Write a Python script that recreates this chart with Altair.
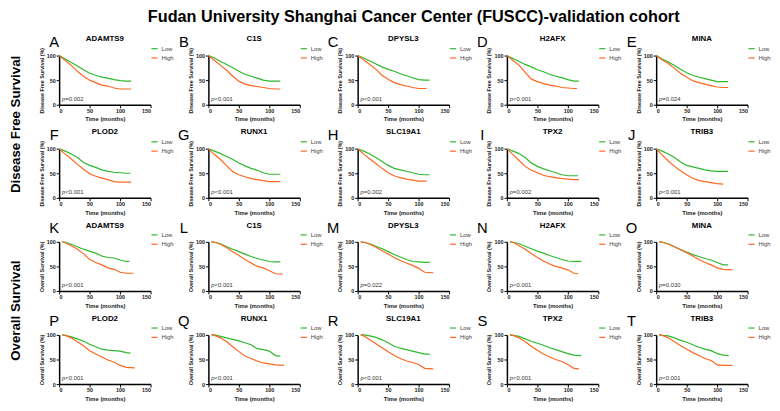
import altair as alt
import pandas as pd

FONT = "Liberation Sans"
GREEN = "#2db82d"
ORANGE = "#ff6620"

TITLE = "Fudan University Shanghai Cancer Center (FUSCC)-validation cohort"
GENES = ["ADAMTS9", "C1S", "DPYSL3", "H2AFX", "MINA",
         "PLOD2", "RUNX1", "SLC19A1", "TPX2", "TRIB3"]
DFS_LETTERS = list("ABCDEFGHIJ")
OS_LETTERS = list("KLMNOPQRST")
DFS_P = ["=0.002", "<0.001", "<0.001", "<0.001", "=0.024",
         "<0.001", "<0.001", "=0.002", "=0.002", "<0.001"]
OS_P = ["<0.001", "<0.001", "=0.022", "<0.001", "=0.030",
        "<0.001", "<0.001", "<0.001", "<0.001", "<0.001"]
X_TICKS = [0, 50, 100, 150]
Y_TICKS = [0, 50, 100]

# Kaplan-Meier curves: (months, survival %)
DFS_LOW = {
    "ADAMTS9": ([0, 10, 20, 30, 40, 50, 60, 70, 80, 90, 100, 110, 118], [100, 93, 86, 79, 71, 64, 60, 56, 54, 51, 49, 48, 48]),
    "C1S":     ([0, 10, 20, 30, 40, 50, 60, 70, 80, 90, 100, 110, 118], [100, 95, 88, 82, 75, 68, 62, 58, 54, 50, 48, 48, 48]),
    "DPYSL3":  ([0, 10, 20, 30, 40, 50, 60, 70, 80, 90, 100, 110, 118], [100, 95, 89, 83, 77, 72, 68, 63, 59, 55, 51, 50, 50]),
    "H2AFX":   ([0, 10, 20, 30, 40, 50, 60, 70, 80, 90, 100, 110, 118], [100, 94, 88, 82, 77, 71, 67, 62, 58, 55, 51, 48, 48]),
    "MINA":    ([0, 10, 20, 30, 40, 50, 60, 70, 80, 90, 100, 110, 118], [100, 93, 87, 80, 72, 65, 60, 56, 53, 50, 47, 47, 47]),
    "PLOD2":   ([0, 10, 20, 30, 40, 50, 60, 70, 80, 90, 100, 110, 117], [100, 95, 89, 82, 72, 66, 62, 57, 54, 52, 51, 50, 50]),
    "RUNX1":   ([0, 10, 20, 30, 40, 50, 60, 70, 80, 90, 100, 110, 118], [100, 95, 90, 84, 78, 71, 65, 60, 56, 51, 48, 48, 48]),
    "SLC19A1": ([0, 10, 20, 30, 40, 50, 60, 70, 80, 90, 100, 110, 118], [100, 95, 89, 82, 74, 66, 60, 57, 54, 51, 48, 47, 47]),
    "TPX2":    ([0, 10, 20, 30, 40, 50, 60, 70, 80, 90, 100, 110, 117], [100, 95, 90, 82, 71, 64, 59, 55, 51, 47, 45, 45, 45]),
    "TRIB3":   ([0, 10, 20, 30, 40, 50, 60, 70, 80, 90, 100, 110, 118], [100, 95, 89, 82, 73, 66, 63, 60, 57, 55, 54, 54, 54]),
}
DFS_HIGH = {
    "ADAMTS9": ([0, 10, 20, 30, 40, 50, 60, 70, 80, 90, 100, 110, 118], [100, 90, 80, 68, 58, 50, 45, 40, 38, 34, 32, 32, 32]),
    "C1S":     ([0, 10, 20, 30, 40, 50, 60, 70, 80, 90, 100, 110, 118], [100, 90, 80, 70, 58, 48, 42, 39, 37, 35, 33, 32, 32]),
    "DPYSL3":  ([0, 10, 20, 30, 40, 50, 60, 70, 80, 90, 100, 110, 113], [100, 91, 82, 72, 60, 52, 45, 41, 38, 35, 33, 33, 33]),
    "H2AFX":   ([0, 10, 20, 30, 40, 50, 60, 70, 80, 90, 100, 110, 115], [100, 90, 80, 66, 52, 47, 43, 40, 38, 35, 34, 33, 33]),
    "MINA":    ([0, 10, 20, 30, 40, 50, 60, 70, 80, 90, 100, 110, 118], [100, 91, 84, 74, 64, 56, 49, 45, 42, 39, 36, 35, 35]),
    "PLOD2":   ([0, 10, 20, 30, 40, 50, 60, 70, 80, 90, 100, 110, 118], [100, 89, 79, 68, 58, 49, 44, 40, 37, 33, 32, 32, 32]),
    "RUNX1":   ([0, 10, 20, 30, 40, 50, 60, 70, 80, 90, 100, 110, 118], [100, 88, 78, 65, 53, 47, 43, 39, 37, 35, 33, 33, 33]),
    "SLC19A1": ([0, 10, 20, 30, 40, 50, 60, 70, 80, 90, 100, 110, 113], [100, 89, 79, 70, 60, 51, 45, 41, 38, 36, 34, 34, 34]),
    "TPX2":    ([0, 10, 20, 30, 40, 50, 60, 70, 80, 90, 100, 110, 118], [100, 88, 76, 64, 56, 51, 46, 43, 41, 39, 38, 37, 37]),
    "TRIB3":   ([0, 10, 20, 30, 40, 50, 60, 70, 80, 90, 100, 110], [100, 87, 75, 64, 55, 47, 40, 35, 33, 31, 29, 28]),
}
OS_LOW = {
    "ADAMTS9": ([5, 10, 20, 30, 40, 50, 60, 70, 80, 90, 100, 110, 115], [100, 99, 95, 90, 85, 81, 77, 71, 68, 67, 63, 60, 60]),
    "C1S":     ([5, 10, 20, 30, 40, 50, 60, 70, 80, 90, 100, 110, 118], [100, 99, 96, 90, 85, 80, 75, 70, 66, 63, 60, 59, 59]),
    "DPYSL3":  ([5, 10, 20, 30, 40, 50, 60, 70, 80, 90, 100, 110, 118], [100, 99, 96, 91, 86, 80, 74, 69, 64, 60, 59, 58, 58]),
    "H2AFX":   ([5, 10, 20, 30, 40, 50, 60, 70, 80, 90, 100, 110, 122], [100, 99, 96, 91, 86, 81, 77, 72, 68, 64, 61, 60, 60]),
    "MINA":    ([5, 10, 20, 30, 40, 50, 60, 70, 80, 90, 100, 110, 118], [100, 99, 96, 90, 84, 79, 74, 70, 66, 63, 58, 53, 53]),
    "PLOD2":   ([5, 10, 20, 30, 40, 50, 60, 70, 80, 90, 100, 110, 117], [100, 99, 96, 92, 87, 81, 76, 71, 69, 68, 67, 64, 63]),
    "RUNX1":   ([5, 10, 20, 30, 40, 50, 60, 70, 80, 90, 100, 110, 118], [100, 100, 97, 94, 91, 88, 84, 80, 72, 70, 67, 58, 57]),
    "SLC19A1": ([5, 10, 20, 30, 40, 50, 60, 70, 80, 90, 100, 110, 118], [100, 100, 98, 95, 90, 84, 77, 73, 70, 67, 64, 61, 61]),
    "TPX2":    ([5, 10, 20, 30, 40, 50, 60, 70, 80, 90, 100, 110, 122], [100, 99, 97, 92, 87, 83, 79, 74, 70, 66, 62, 59, 58]),
    "TRIB3":   ([5, 10, 20, 30, 40, 50, 60, 70, 80, 90, 100, 110, 119], [100, 99, 98, 94, 89, 85, 80, 75, 71, 68, 62, 59, 58]),
}
OS_HIGH = {
    "ADAMTS9": ([5, 10, 20, 30, 40, 50, 60, 70, 80, 90, 100, 110, 122], [100, 98, 92, 85, 76, 64, 58, 53, 47, 44, 38, 36, 36]),
    "C1S":     ([5, 10, 20, 30, 40, 50, 60, 70, 80, 90, 100, 110, 122], [100, 99, 95, 88, 80, 72, 64, 57, 50, 47, 41, 35, 34]),
    "DPYSL3":  ([5, 10, 20, 30, 40, 50, 60, 70, 80, 90, 100, 110, 124], [100, 99, 95, 89, 82, 75, 68, 62, 57, 52, 46, 38, 37]),
    "H2AFX":   ([5, 10, 20, 30, 40, 50, 60, 70, 80, 90, 100, 110, 117], [100, 99, 92, 85, 76, 68, 61, 55, 50, 47, 43, 36, 35]),
    "MINA":    ([5, 10, 20, 30, 40, 50, 60, 70, 80, 90, 100, 110, 125], [100, 99, 95, 90, 84, 78, 71, 64, 58, 53, 47, 44, 43]),
    "PLOD2":   ([5, 10, 20, 30, 40, 50, 60, 70, 80, 90, 100, 110, 124], [100, 99, 94, 86, 78, 68, 61, 55, 49, 45, 38, 34, 33]),
    "RUNX1":   ([5, 10, 20, 30, 40, 50, 60, 70, 80, 90, 100, 110, 124], [100, 99, 94, 86, 76, 66, 57, 52, 47, 43, 41, 39, 38]),
    "SLC19A1": ([5, 10, 20, 30, 40, 50, 60, 70, 80, 90, 100, 110, 124], [100, 98, 90, 82, 74, 66, 58, 52, 47, 44, 40, 32, 31]),
    "TPX2":    ([5, 10, 20, 30, 40, 50, 60, 70, 80, 90, 100, 110, 118], [100, 99, 94, 86, 77, 69, 61, 55, 50, 46, 40, 32, 31]),
    "TRIB3":   ([5, 10, 20, 30, 40, 50, 60, 70, 80, 90, 100, 110, 125], [100, 99, 94, 86, 78, 71, 64, 58, 52, 48, 39, 38, 38]),
}

PW, PH = 93, 50


def panel(gene, letter, ptxt, low, high, ytitle, col, row_label=None):
    rows = []
    for grp, (ts, ss) in (("Low", low), ("High", high)):
        for t, s in zip(ts, ss):
            rows.append({"t": t, "s": s, "group": grp})
    df = pd.DataFrame(rows)
    lines = alt.Chart(df).mark_line(strokeWidth=1.2).encode(
        x=alt.X("t:Q", scale=alt.Scale(domain=[0, 150], nice=False),
                axis=alt.Axis(values=X_TICKS, title="Time (months)")),
        y=alt.Y("s:Q", scale=alt.Scale(domain=[0, 100], nice=False),
                axis=alt.Axis(values=Y_TICKS, title=ytitle)),
        color=alt.Color("group:N",
                        scale=alt.Scale(domain=["Low", "High"], range=[GREEN, ORANGE]),
                        legend=alt.Legend(orient="none", legendX=PW, legendY=-11,
                                          title=None, symbolType="stroke",
                                          symbolSize=40, symbolStrokeWidth=1.2,
                                          labelFontSize=6, labelFont=FONT,
                                          labelColor="#444", rowPadding=2.5,
                                          padding=0, labelOffset=3)),
    )
    one = pd.DataFrame({"k": [0]})
    letter_t = alt.Chart(one).mark_text(fontSize=15, font=FONT, align="center",
                                        baseline="middle", color="black").encode(
        x=alt.value(-5 if col == 0 else -25), y=alt.value(-14), text=alt.value(letter))
    gene_t = alt.Chart(one).mark_text(fontSize=8, font=FONT, fontWeight="bold",
                                      align="center", baseline="middle", color="black").encode(
        x=alt.value(PW / 2), y=alt.value(-16.5), text=alt.value(gene))
    p_t = alt.Chart(one).mark_text(fontSize=6, font=FONT, fontStyle="italic",
                                   align="left", baseline="middle", color="#333").encode(
        x=alt.value(3), y=alt.value(44), text=alt.value("p"))
    pv_t = alt.Chart(one).mark_text(fontSize=6, font=FONT, align="left",
                                    baseline="middle", color="#333").encode(
        x=alt.value(6.3), y=alt.value(44), text=alt.value(ptxt))
    layers = [lines, letter_t, gene_t, p_t, pv_t]
    if row_label:
        layers.append(alt.Chart(one).mark_text(fontSize=13.5, font=FONT, fontWeight="bold",
                                               angle=270, align="center",
                                               baseline="middle", color="black").encode(
            x=alt.value(-44), y=alt.value(70), text=alt.value(row_label)))
    return alt.layer(*layers).properties(width=PW, height=PH)


panels = []
for i, g in enumerate(GENES):
    col = i % 5
    lab = "Disease Free Survival" if i == 0 else None
    panels.append(panel(g, DFS_LETTERS[i], DFS_P[i], DFS_LOW[g], DFS_HIGH[g],
                        "Disease Free Survival (%)", col, lab))
for i, g in enumerate(GENES):
    col = i % 5
    lab = "Overall Survival" if i == 0 else None
    panels.append(panel(g, OS_LETTERS[i], OS_P[i], OS_LOW[g], OS_HIGH[g],
                        "Overall Survival (%)", col, lab))


def build(pad):
    return alt.ConcatChart(
        concat=panels, columns=5, spacing={"row": 44.7, "column": 58.8}, bounds="flush",
        title=alt.TitleParams(TITLE, fontSize=16.5, font=FONT, fontWeight="bold",
                              anchor="middle", offset=10, dx=24),
        padding=pad,
    ).resolve_scale(color="independent").resolve_legend(color="independent").configure_axis(
        domainColor="black", domainWidth=1.5, tickColor="black", tickWidth=1, tickSize=3,
        labelFontSize=5.5, labelFontWeight="bold", labelFont=FONT, labelColor="#222",
        titleFont=FONT, titleFontSize=5.5, titleFontWeight="bold", titleColor="#222",
        grid=False, labelPadding=1, titlePadding=2,
    ).configure_axisX(titleFontSize=6).configure_view(stroke=None)


try:
    chart = build({"top": -3, "left": 0, "right": 0, "bottom": 0})
    chart.to_dict()
except Exception:
    chart = build(0)

chart.save("out.html", embed_options={"renderer": "svg", "actions": False})
